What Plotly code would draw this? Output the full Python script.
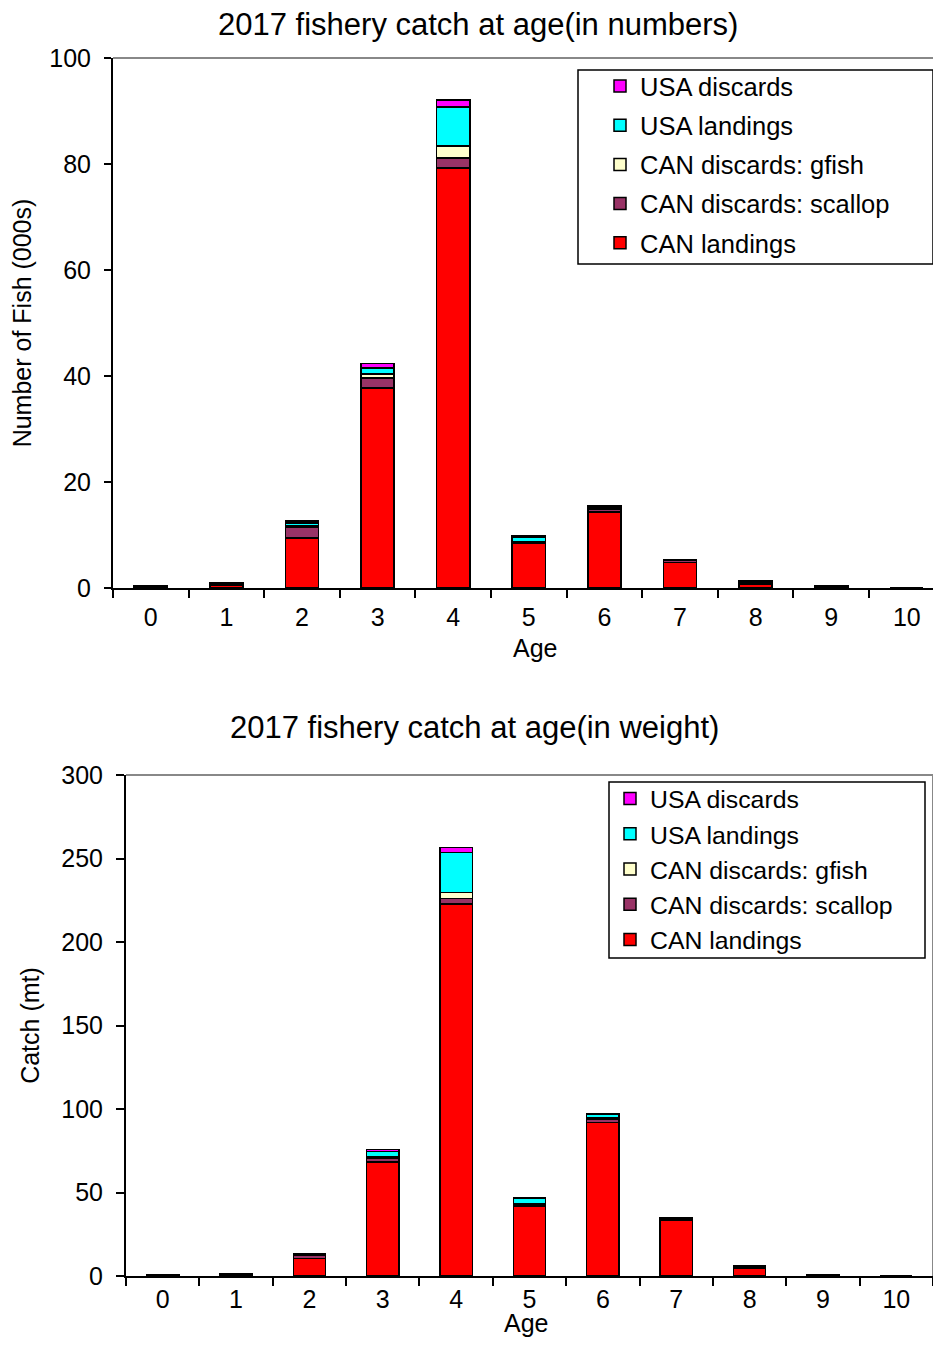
import plotly.graph_objects as go

ages = ["0", "1", "2", "3", "4", "5", "6", "7", "8", "9", "10"]
series_names = ["CAN landings", "CAN discards: scallop", "CAN discards: gfish", "USA landings", "USA discards"]
colors = ["#FF0000", "#993366", "#FFFFCC", "#00FFFF", "#FF00FF"]

# Catch at age in numbers (000s)
num_can_landings = [0.2, 0.6, 9.4, 37.7, 79.2, 8.4, 14.3, 4.85, 0.75, 0.3, 0]
num_can_scallop = [0.1, 0.2, 2.1, 1.9, 1.9, 0.3, 0.6, 0.3, 0.3, 0.1, 0]
num_can_gfish = [0.0, 0.1, 0.3, 0.8, 2.3, 0.1, 0.2, 0.1, 0.1, 0.0, 0]
num_usa_landings = [0.05, 0.1, 0.5, 1.1, 7.4, 0.7, 0.3, 0.1, 0.1, 0.05, 0]
num_usa_discards = [0.0, 0.0, 0.3, 0.9, 1.3, 0.3, 0.1, 0.05, 0.05, 0.0, 0]

# Catch at age in weight (mt)
wt_can_landings = [0.5, 0.6, 10.6, 68.4, 222.8, 41.9, 92.0, 33.5, 4.5, 0.6, 0]
wt_can_scallop = [0.3, 0.3, 2.0, 2.0, 3.4, 1.0, 2.0, 0.8, 0.8, 0.2, 0]
wt_can_gfish = [0.05, 0.05, 0.3, 0.8, 3.3, 0.4, 0.5, 0.2, 0.2, 0.05, 0]
wt_usa_landings = [0.1, 0.1, 0.5, 3.5, 24.2, 3.0, 2.4, 0.4, 0.4, 0.1, 0]
wt_usa_discards = [0.05, 0.05, 0.2, 1.2, 3.0, 0.8, 0.5, 0.2, 0.1, 0.05, 0]

num_series = [num_can_landings, num_can_scallop, num_can_gfish, num_usa_landings, num_usa_discards]
wt_series = [wt_can_landings, wt_can_scallop, wt_can_gfish, wt_usa_landings, wt_usa_discards]

W, H = 925, 1330
OX, OY = 8, 8   # page body margin
FONT = "Liberation Sans, Arial, sans-serif"

fig = go.Figure()
for i, (name, vals) in enumerate(zip(series_names, num_series)):
    fig.add_trace(go.Bar(x=ages, y=vals, name=name, marker=dict(color=colors[i], line=dict(color="black", width=1.5)),
                         xaxis="x", yaxis="y", legend="legend", legendgroup="a%d" % i, legendrank=1000 - i))
for i, (name, vals) in enumerate(zip(series_names, wt_series)):
    fig.add_trace(go.Bar(x=ages, y=vals, name=name, marker=dict(color=colors[i], line=dict(color="black", width=1.5)),
                         xaxis="x2", yaxis="y2", legend="legend2", legendgroup="b%d" % i, legendrank=1000 - i))

def px_x(p):
    return min(1.0, max(0.0, (p - OX) / W))

def px_y(p):
    return min(1.0, max(0.0, 1 - (p - OY) / H))

axis_common = dict(showline=True, linecolor="black", linewidth=2, ticks="outside", tickcolor="black",
                   tickwidth=2, showgrid=False, zeroline=False, automargin=False,
                   tickfont=dict(size=25, color="black", family=FONT))

top_right = OX + W
top_range_end = -0.5 + (top_right - 113) / 75.6

fig.update_layout(
    template="none",
    width=W, height=H, margin=dict(l=0, r=0, t=0, b=0, pad=0, autoexpand=False),
    paper_bgcolor="white", plot_bgcolor="white",
    barmode="stack", bargap=0.56,
    font=dict(family=FONT, color="black"),
    xaxis=dict(domain=[px_x(113), 1.0], anchor="y", type="category", tickson="boundaries", ticklen=8,
               range=[-0.5, top_range_end], ticklabelstandoff=6, **axis_common),
    yaxis=dict(domain=[px_y(588), px_y(58)], anchor="x", range=[0, 100], dtick=20, ticklen=7,
               ticklabelstandoff=8,
               title=dict(text="Number of Fish (000s)", font=dict(size=25), standoff=12), **axis_common),
    xaxis2=dict(domain=[px_x(126), px_x(937)], anchor="y2", type="category", tickson="boundaries", ticklen=8,
                ticklabelstandoff=0, **axis_common),
    yaxis2=dict(domain=[px_y(1276), px_y(775)], anchor="x2", range=[0, 300], dtick=50, ticklen=8,
                ticklabelstandoff=8,
                title=dict(text="Catch (mt)", font=dict(size=25), standoff=15), **axis_common),
    legend=dict(x=px_x(600), y=px_y(63), xanchor="left", yanchor="top", traceorder="grouped",
                bgcolor="rgba(0,0,0,0)", borderwidth=0, font=dict(size=25.5, family=FONT),
                tracegroupgap=3, itemwidth=30),
    legend2=dict(x=px_x(610), y=px_y(776), xanchor="left", yanchor="top", traceorder="grouped",
                 bgcolor="rgba(0,0,0,0)", borderwidth=0, font=dict(size=24.8, family=FONT),
                 tracegroupgap=0, itemwidth=30),
    annotations=[
        dict(text="2017 fishery catch at age(in numbers)", x=px_x(478), y=px_y(25), xref="paper", yref="paper",
             showarrow=False, font=dict(size=31, family=FONT), xanchor="center", yanchor="middle"),
        dict(text="2017 fishery catch at age(in weight)", x=px_x(475), y=px_y(727), xref="paper", yref="paper",
             showarrow=False, font=dict(size=31, family=FONT), xanchor="center", yanchor="middle"),
        dict(text="Age", x=px_x(535), y=px_y(648), xref="paper", yref="paper",
             showarrow=False, font=dict(size=25, family=FONT), xanchor="center", yanchor="middle"),
        dict(text="Age", x=px_x(526), y=0, xref="paper", yref="paper", yshift=-1,
             showarrow=False, font=dict(size=25, family=FONT), xanchor="center", yanchor="bottom"),
    ],
    shapes=[
        dict(type="line", xref="x domain", yref="y domain", x0=0, x1=1, y0=1, y1=1, line=dict(color="#888888", width=2)),
        dict(type="line", xref="x2 domain", yref="y2 domain", x0=0, x1=1, y0=1, y1=1, line=dict(color="#888888", width=2)),
        dict(type="line", xref="x2 domain", yref="y2 domain", x0=1, x1=1, y0=0, y1=1, line=dict(color="#888888", width=2)),
        dict(type="rect", xref="paper", yref="paper", x0=px_x(578), x1=px_x(938), y0=px_y(264), y1=px_y(70),
             line=dict(color="black", width=1.5), fillcolor="rgba(0,0,0,0)", layer="above"),
        dict(type="rect", xref="paper", yref="paper", x0=px_x(609), x1=px_x(925), y0=px_y(958), y1=px_y(782),
             line=dict(color="black", width=1.5), fillcolor="rgba(0,0,0,0)", layer="above"),
    ],
)

fig.write_html("out.html")
